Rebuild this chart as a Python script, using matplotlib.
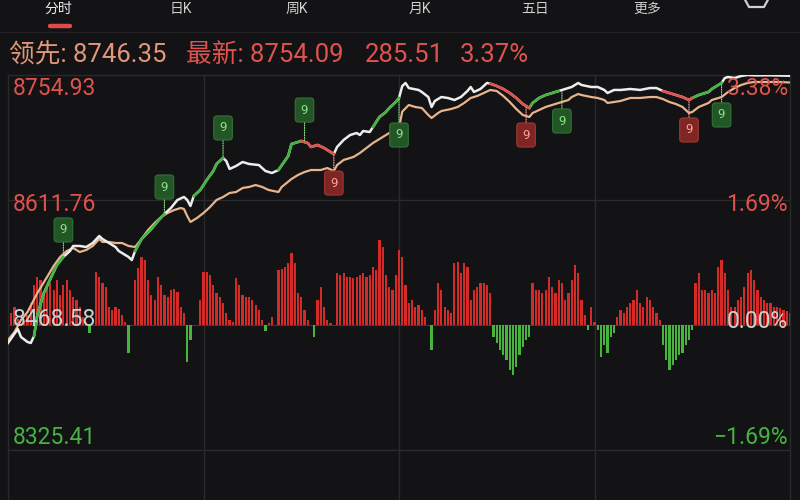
import matplotlib
matplotlib.use("Agg")
import matplotlib.pyplot as plt
import numpy as np
from matplotlib.lines import Line2D

# ---------------- data ----------------
prev_close = 8468.58
day_high = 8754.93
lead_last = 8746.35
last_price = 8754.09
change = 285.51
change_pct = "3.37%"

tabs = ["分时", "日K", "周K", "月K", "五日", "更多"]

left_labels = ["8754.93", "8611.76", "8468.58", "8325.41"]
right_labels = ["3.38%", "1.69%", "0.00%", "\u22121.69%"]

# index (white) line : minute -> price
white_min = [0, 3, 4, 6, 7, 8, 9, 11, 13, 15, 17, 19, 20, 22, 24, 26, 28, 29, 31, 33,
             34, 37, 38, 39, 41, 44, 46, 48, 50, 52, 54, 55, 56, 57, 59, 61, 63, 64, 66, 67,
             68, 70, 72, 74, 77, 79, 81, 83, 86, 87, 90, 92, 93, 95, 97, 99, 100, 101, 103, 105,
             107, 108, 109, 111, 112, 114, 116, 117, 119, 120, 121, 122, 123, 126, 127, 129, 130, 131, 133, 135,
             137, 139, 141, 142, 143, 145, 147, 148, 150, 152, 154, 156, 158, 160, 161, 163, 165, 167, 169, 172,
             173, 175, 176, 179, 181, 183, 184, 186, 188, 191, 194, 197, 199, 201, 203, 205, 207, 209, 210, 212,
             215, 216, 219, 220, 221, 223, 225, 227, 229, 234, 240]
white_px = [8448.0, 8464.0, 8454.8, 8449.1, 8448.0, 8456.0, 8480.0, 8505.2, 8521.3, 8537.3,
            8546.5, 8553.3, 8559.1, 8559.1, 8557.9, 8562.5, 8570.5, 8567.1, 8562.5, 8557.9,
            8553.3, 8546.5, 8543.0, 8553.3, 8567.1, 8578.5, 8587.7, 8595.7, 8602.6, 8611.8,
            8615.2, 8611.8, 8604.9, 8616.3, 8623.2, 8634.7, 8645.0, 8653.0, 8659.9, 8656.4,
            8647.3, 8650.7, 8655.3, 8653.0, 8651.8, 8645.0, 8642.7, 8646.1, 8662.2, 8675.9,
            8679.3, 8677.0, 8672.5, 8674.8, 8671.3, 8666.7, 8664.4, 8672.5, 8680.5, 8686.2,
            8688.5, 8686.2, 8690.8, 8689.6, 8695.4, 8706.8, 8712.6, 8717.1, 8724.0, 8728.6,
            8742.3, 8745.8, 8740.0, 8737.8, 8735.5, 8729.7, 8718.3, 8725.2, 8729.7, 8728.6,
            8726.3, 8729.7, 8736.6, 8741.2, 8735.5, 8738.9, 8745.8, 8745.0, 8742.3, 8738.9,
            8734.3, 8728.6, 8721.7, 8717.1, 8722.9, 8728.6, 8732.0, 8734.3, 8736.6, 8740.0,
            8741.2, 8745.8, 8743.5, 8741.2, 8741.2, 8737.8, 8734.3, 8737.8, 8737.8, 8738.9,
            8737.8, 8740.0, 8740.0, 8736.6, 8734.3, 8732.0, 8729.7, 8726.3, 8728.6, 8732.0,
            8735.5, 8738.9, 8745.8, 8751.5, 8752.6, 8751.5, 8753.8, 8754.93, 8754.5, 8754.6,
            8754.09]

# leading (orange) line : minute -> price
lead_min = [0, 2, 4, 6, 9, 12, 14, 16, 18, 20, 22, 24, 26, 28, 29, 31, 33, 35, 37, 39,
            41, 43, 45, 47, 49, 51, 53, 54, 55, 56, 58, 60, 62, 64, 66, 68, 70, 72, 74, 76,
            78, 80, 83, 84, 87, 89, 91, 93, 96, 98, 100, 101, 103, 106, 108, 110, 112, 114, 116, 118,
            120, 121, 123, 125, 127, 129, 130, 132, 133, 136, 138, 140, 142, 144, 146, 148, 150, 152, 154, 156,
            158, 160, 161, 163, 165, 167, 169, 172, 173, 175, 176, 179, 181, 183, 184, 186, 188, 191, 194, 197,
            199, 201, 203, 205, 207, 209, 210, 212, 215, 216, 219, 221, 223, 225, 227, 229, 233, 236, 240]
lead_px = [8451.4, 8460.6, 8474.3, 8483.5, 8505.2, 8523.6, 8536.2, 8546.5, 8553.3, 8556.8,
           8552.2, 8554.5, 8559.1, 8567.1, 8563.7, 8563.7, 8562.5, 8562.5, 8559.1, 8557.9,
           8567.1, 8577.4, 8585.4, 8592.3, 8596.9, 8600.3, 8602.6, 8601.5, 8593.4, 8586.6,
           8591.1, 8596.9, 8603.7, 8611.8, 8615.2, 8619.8, 8620.9, 8625.5, 8626.7, 8628.9,
           8626.7, 8623.2, 8620.9, 8626.7, 8635.8, 8640.4, 8643.8, 8646.1, 8646.1, 8648.4,
           8645.0, 8651.8, 8657.6, 8661.0, 8665.6, 8671.3, 8677.0, 8681.6, 8686.2, 8690.8,
           8694.2, 8713.0, 8720.6, 8718.3, 8717.1, 8709.1, 8705.7, 8711.4, 8713.7, 8716.0,
           8718.3, 8722.9, 8728.6, 8730.9, 8734.3, 8737.8, 8736.6, 8730.9, 8724.0, 8716.0,
           8709.1, 8706.8, 8711.4, 8714.8, 8718.3, 8720.6, 8722.9, 8726.3, 8729.7, 8733.2,
           8732.0, 8729.7, 8728.6, 8726.3, 8722.9, 8724.0, 8725.2, 8728.6, 8728.6, 8729.7,
           8729.7, 8727.4, 8724.0, 8721.7, 8718.3, 8711.4, 8712.6, 8718.3, 8722.9, 8726.3,
           8729.7, 8735.5, 8740.0, 8743.5, 8745.8, 8746.9, 8746.9, 8747.0, 8746.35]

# red/green strength bars, one per minute (arbitrary units)
strength = [0, 12, 18, 6, 0, 4, 10, 22, 40, 48,
            45, 30, 38, 42, 35, 45, 30, 40, 45, 35,
            28, 25, 18, 8, 3, -8, 0, 53, 48, 42,
            38, 18, 15, 18, 16, 10, 3, -28, 0, 45,
            57, 68, 65, 45, 30, 25, 48, 40, 30, 28,
            35, 36, 33, 18, 12, -37, -15, 0, 0, 25,
            53, 53, 50, 40, 32, 28, 22, 12, 5, 3,
            47, 40, 30, 28, 28, 25, 20, 15, 5, -6,
            2, 8, 0, 55, 56, 58, 62, 72, 62, 32,
            28, 15, 5, 0, -12, 25, 38, 18, 5, 2,
            0, 52, 50, 52, 48, 48, 47, 48, 50, 52,
            48, 50, 58, 55, 85, 78, 50, 38, 35, 50,
            75, 68, 40, 22, 25, 18, 20, 15, 8, 0,
            -25, 15, 42, 35, 18, 15, 12, 62, 63, 52,
            62, 58, 25, 35, 38, 42, 42, 40, 32, -12,
            -18, -25, -30, -35, -45, -50, -42, -30, -22, -15,
            -12, 42, 35, 35, 32, 35, 48, 38, 32, 45,
            42, 25, 32, 45, 60, 52, 25, 10, -5, 18,
            3, -5, -32, -20, -28, -12, -8, 8, 15, 12,
            18, 22, 25, 35, 22, 18, 28, 25, 18, 12,
            5, -20, -35, -45, -40, -35, -30, -28, -20, -15,
            -5, 42, 52, 35, 35, 32, 35, 32, 58, 65,
            52, 35, 18, 18, 25, 28, 38, 52, 55, 45,
            35, 28, 25, 22, 22, 18, 18, 17, 15, 14,
            12]

# highlighted stretches of the index line (minute ranges)
green_runs = [(8, 17), (39, 48), (57, 66), (83, 90), (112, 120), (160, 169), (210, 219)]
red_runs = [(90, 100), (148, 160), (201, 210)]

# "9" signals
nine_min = [17, 48, 66, 91, 100, 120, 159, 170, 209, 219]
nine_kind = ["g", "g", "g", "g", "r", "g", "r", "g", "r", "g"]

# ---------------- style / layout ----------------
BG = "#131214"
GRID = "#2a2a2c"
WHITE = "#ededed"
ORANGE = "#e8b48c"
GREEN = "#45b341"
RED = "#e0524e"
BAR_RED = "#d42a28"
BAR_GREEN = "#47b53d"
nine_off = [-27, -27, -30, -32, 29, 37, 29, 31, 30, 32]   # px, + = below

W, H = 800, 500
def fx(x): return x / W
def fy(y): return 1 - y / H

plt.rcParams["font.family"] = ["Roboto", "Noto Sans CJK SC", "DejaVu Sans"]

fig = plt.figure(figsize=(8, 5), dpi=100, facecolor=BG)

L, R, T = 8, 790, 75
ax_bar = fig.add_axes([fx(L), 0, (R - L) / W, (H - T) / H])
ax_bar.set_facecolor(BG)
ax_bar.set_xlim(0, 240)
ax_bar.set_ylim(-175, 250)
ax_bar.set_xticks([]); ax_bar.set_yticks([])
ax_bar.spines["bottom"].set_visible(False)
for s in ["top", "left", "right"]:
    ax_bar.spines[s].set_color(GRID)
    ax_bar.spines[s].set_linewidth(1.0)

span = day_high - prev_close
ax_price = ax_bar.twinx()
ax_price.set_ylim(prev_close - 0.7 * span, day_high)
ax_price.set_xlim(0, 240)
ax_price.patch.set_visible(False)
ax_price.set_yticks([])
for s in ax_price.spines.values():
    s.set_visible(False)

# grid
for m in [60, 120, 180]:
    ax_bar.axvline(m, color=GRID, lw=1.0, zorder=0)
ax_bar.axhline(0, color="#3a3a3a", lw=0.8, zorder=0)
for p in [prev_close + span / 2, prev_close - span / 2]:
    ax_price.axhline(p, color=GRID, lw=1.0, zorder=0)

# bars
x = np.arange(len(strength))
st = np.array(strength, dtype=float)
cols = [BAR_RED if v >= 0 else BAR_GREEN for v in st]
ax_bar.bar(x, st, width=0.68, color=cols, linewidth=0, zorder=1)

# lines
wm = np.array(white_min); wp = np.array(white_px)
ax_price.plot(lead_min, lead_px, color=ORANGE, lw=1.6, zorder=3, solid_joinstyle="round")
ax_price.plot(wm, wp, color=WHITE, lw=1.8, zorder=4, solid_joinstyle="round")
for a, b in green_runs:
    k = (wm >= a) & (wm <= b)
    ax_price.plot(wm[k], wp[k], color=GREEN, lw=1.9, zorder=5, solid_joinstyle="round")
for a, b in red_runs:
    k = (wm >= a) & (wm <= b)
    ax_price.plot(wm[k], wp[k], color=RED, lw=1.9, zorder=5, solid_joinstyle="round")

# "9" markers
for m, kind, off in zip(nine_min, nine_kind, nine_off):
    p = np.interp(m, wm, wp)
    if kind == "g":
        fc, ec, tc = "#235527", "#2f7434", "#8ae383"
    else:
        fc, ec, tc = "#7e2624", "#a03632", "#ffa094"
    ax_price.annotate("9", xy=(m, p), xytext=(0, -off * 0.72), textcoords="offset points",
                      ha="center", va="center", fontsize=9.5, color=tc, zorder=6,
                      bbox=dict(boxstyle="round,pad=0.42,rounding_size=0.25", fc=fc, ec=ec, lw=0.8),
                      arrowprops=dict(arrowstyle="-", color=tc, lw=0.8, ls=(0, (1, 1.2)),
                                      shrinkA=0, shrinkB=1))

# axis labels
lab_y_left = [89, 205, 320, 437]
lab_y_right = [89, 205, 322, 437]
lab_cols = [RED, RED, "#cfcfcf", GREEN]
for t, yy, c in zip(left_labels, lab_y_left, lab_cols):
    fig.text(fx(13), fy(yy), t, color=c, fontsize=16.5, ha="left", va="center", zorder=5)
for t, yy, c in zip(right_labels, lab_y_right, lab_cols):
    fig.text(fx(788), fy(yy), t, color=c, fontsize=16.5, ha="right", va="center", zorder=5)

# header line
HDR = 55
fig.text(fx(9), fy(HDR), f"领先: {lead_last:.2f}", color="#e2967a", fontsize=18.5, ha="left", va="center")
fig.text(fx(186), fy(HDR), f"最新: {last_price:.2f}", color=RED, fontsize=18.5, ha="left", va="center")
fig.text(fx(365), fy(HDR), f"{change:.2f}", color=RED, fontsize=18.5, ha="left", va="center")
fig.text(fx(460), fy(HDR), change_pct, color=RED, fontsize=18.5, ha="left", va="center")

# tabs along the top edge
tab_x = [58, 181, 297, 420, 535, 647]
for i, (t, tx) in enumerate(zip(tabs, tab_x)):
    fig.text(fx(tx), fy(13), t, color="#ececec" if i == 0 else "#cfcfcf", fontsize=10,
             ha="center", va="baseline")
fig.add_artist(Line2D([fx(50), fx(70)], [fy(26), fy(26)], lw=3.2, color="#e24a4a",
                      solid_capstyle="round", transform=fig.transFigure))
fig.add_artist(Line2D([0, 1], [fy(31.5), fy(31.5)], lw=1.0, color="#222224",
                      transform=fig.transFigure))
hx = [743, 749, 764, 770]
hy = [-4, 7, 7, -4]
fig.add_artist(Line2D([fx(v) for v in hx], [fy(v) for v in hy], lw=1.6, color="#d0d0d0",
                      transform=fig.transFigure))

fig.savefig("out.png", dpi=100, facecolor=BG)
